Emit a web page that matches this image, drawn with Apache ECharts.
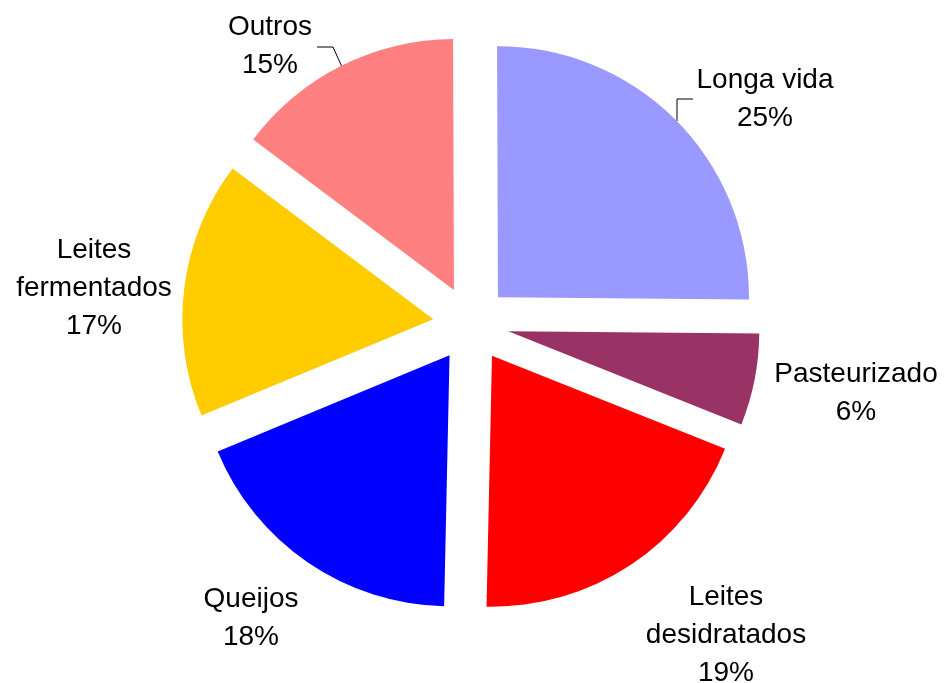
<!DOCTYPE html>
<html>
<head>
<meta charset="utf-8">
<script src="https://cdn.jsdelivr.net/npm/echarts@6/dist/echarts.min.js"></script>
<style>html,body{margin:0;padding:0;background:#fff}#c{width:947px;height:683px}</style>
</head>
<body>
<div id="c"></div>
<script>
const categories = ['Longa vida', 'Pasteurizado', 'Leites\ndesidratados', 'Queijos', 'Leites\nfermentados', 'Outros'];
const values = [25.2, 5.9, 19.3, 18.4, 16.5, 14.7];
const colors = ['#9999FF', '#993366', '#FF0000', '#0000FF', '#FFCC00', '#FF8080'];
// label centres and leader lines (style / layout only)
const labelPos = [[765, 99], [856, 393], [726, 635], [251, 618], [94, 288], [270, 46]];
const leaderLines = [
  [[677, 121], [677, 99], [693, 99]],
  [[342, 67], [333, 47], [317, 47]]
];

const total = values.reduce((a, b) => a + b, 0);
const FONT = '28px "Liberation Sans", Arial, sans-serif';
const graphics = [];
categories.forEach((c, i) => {
  graphics.push({
    type: 'text',
    x: labelPos[i][0],
    y: labelPos[i][1],
    silent: true,
    style: {
      text: c + '\n' + Math.round(values[i] * 100 / total + 1e-6) + '%',
      font: FONT,
      lineHeight: 38,
      fill: '#000',
      align: 'center',
      verticalAlign: 'middle'
    }
  });
});
leaderLines.forEach(pts => {
  graphics.push({
    type: 'polyline',
    silent: true,
    shape: { points: pts },
    style: { stroke: '#000', lineWidth: 1, fill: null }
  });
});

const chart = echarts.init(document.getElementById('c'));
chart.setOption({
  animation: false,
  backgroundColor: '#fff',
  graphic: graphics,
  series: [{
    type: 'pie',
    center: [471, 324],
    radius: [0, 251],
    startAngle: 90.2,
    clockwise: true,
    selectedMode: 'multiple',
    selectedOffset: 38,
    emphasis: { disabled: true },
    label: { show: false },
    labelLine: { show: false },
    data: categories.map((c, i) => ({
      name: c,
      value: values[i],
      selected: true,
      itemStyle: { color: colors[i] }
    }))
  }]
});
</script>
</body>
</html>
